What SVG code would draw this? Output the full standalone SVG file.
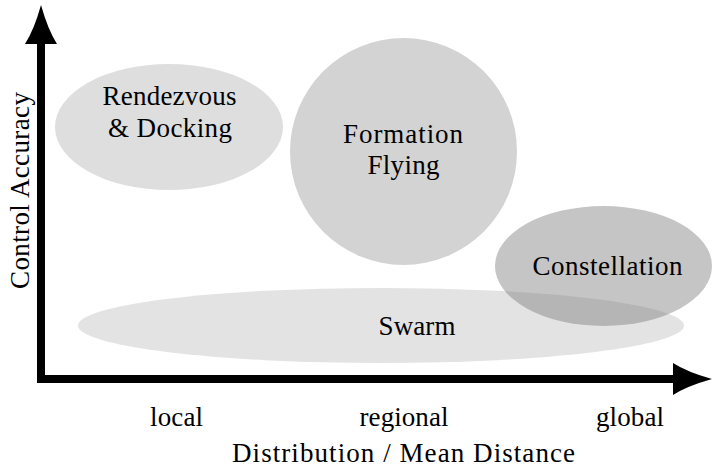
<svg xmlns="http://www.w3.org/2000/svg" width="713" height="469" viewBox="0 0 713 469">
<style>
  text { font-family: "Liberation Serif", "Times New Roman", serif; font-size: 27px; fill: #000; text-anchor: middle; }
  .blob { fill: #808080; stroke: none; }
  .axis { fill: none; stroke: #000; stroke-width: 8; stroke-linejoin: miter; }
</style>
<defs>
  <marker id="arrow" markerUnits="userSpaceOnUse" markerWidth="40" markerHeight="34" viewBox="0 0 40 34" refX="1" refY="17" orient="auto-start-reverse">
    <path d="M0,1 Q14,10 39,17 Q14,24 0,33 Z" fill="#000"/>
  </marker>
</defs>
<rect width="713" height="469" fill="#fff"/>
<g id="rendezvous">
  <ellipse class="blob" cx="169" cy="127" rx="114" ry="63" fill-opacity="0.26"/>
  <text x="169.5" y="105" textLength="134" lengthAdjust="spacing">Rendezvous</text>
  <text x="170" y="137" textLength="124" lengthAdjust="spacing">&amp; Docking</text>
</g>
<g id="formation">
  <circle class="blob" cx="403.5" cy="151.5" r="113.5" fill-opacity="0.35"/>
  <text x="403" y="143" textLength="120" lengthAdjust="spacing">Formation</text>
  <text x="403.5" y="174" textLength="72" lengthAdjust="spacing">Flying</text>
</g>
<g id="constellation">
  <ellipse class="blob" cx="603.5" cy="266" rx="108.5" ry="60" fill-opacity="0.46"/>
  <text x="607.5" y="275" textLength="150" lengthAdjust="spacing">Constellation</text>
</g>
<g id="swarm">
  <ellipse class="blob" cx="381" cy="325.5" rx="303" ry="37.5" fill-opacity="0.22"/>
  <text x="417" y="335" textLength="77" lengthAdjust="spacing">Swarm</text>
</g>
<g id="connectors">
  <path class="axis" d="M41,43 V379 H674" marker-start="url(#arrow)" marker-end="url(#arrow)"/>
</g>
<g id="labels">
  <text x="176.5" y="426" textLength="53" lengthAdjust="spacing">local</text>
  <text x="404" y="426" textLength="89" lengthAdjust="spacing">regional</text>
  <text x="630" y="426" textLength="68" lengthAdjust="spacing">global</text>
  <text x="403.5" y="462" textLength="343" lengthAdjust="spacing">Distribution / Mean Distance</text>
  <text transform="translate(29,190.5) rotate(-90)" x="0" y="0" textLength="197" lengthAdjust="spacing">Control Accuracy</text>
</g>
</svg>
